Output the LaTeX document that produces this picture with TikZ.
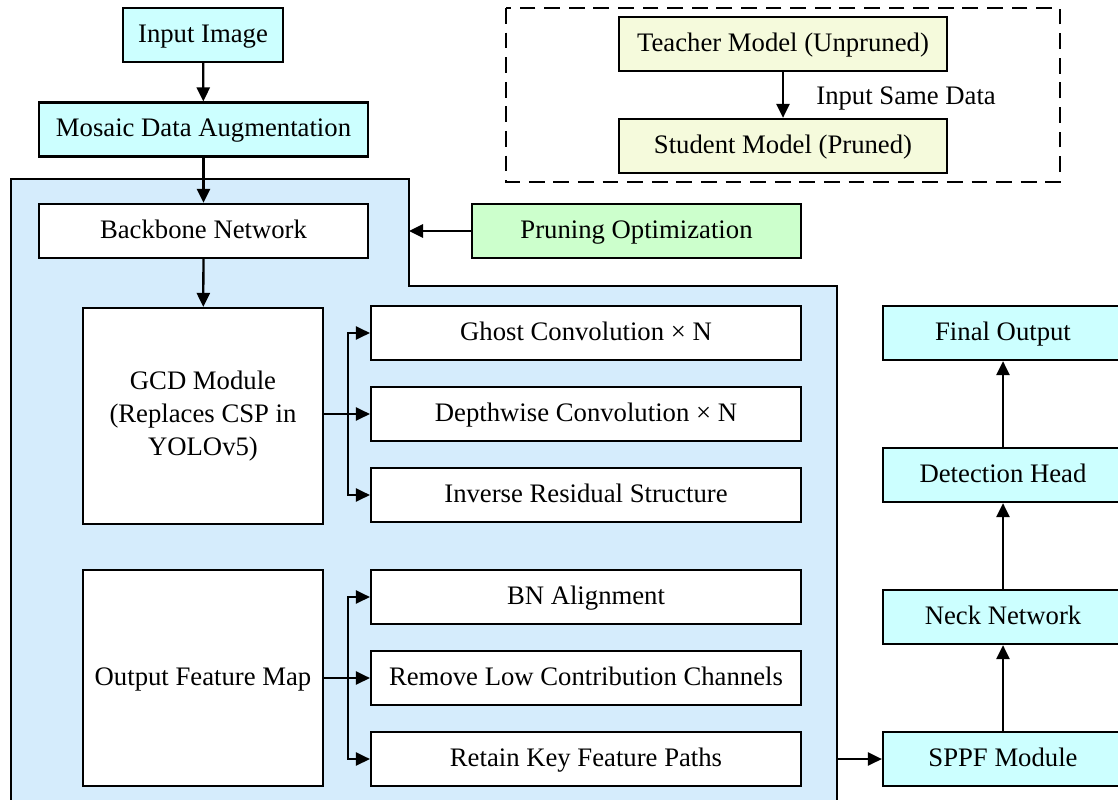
\documentclass[tikz,border=0pt]{standalone}
\usepackage{fontspec}
\setmainfont{Liberation Serif}
\usetikzlibrary{arrows.meta}
\definecolor{cyanbox}{HTML}{CCFFFF}
\definecolor{contblue}{HTML}{D5ECFC}
\definecolor{yelbox}{HTML}{F5FADC}
\definecolor{grnbox}{HTML}{CCFFCC}
\tikzset{
  blk/.style={draw=black, line width=1.3pt, inner sep=0pt,
    font=\fontsize{15.2}{19}\selectfont},
  one/.style={text height=0.8em, text depth=0pt},
  wide/.style={one, minimum width=6.58cm, minimum height=1.08cm},
  side/.style={one, minimum width=8.6cm, minimum height=1.08cm},
  tall/.style={minimum width=4.8cm, minimum height=4.32cm},
  col/.style={one, minimum width=4.8cm, minimum height=1.08cm},
  arr/.style={line width=1.3pt, -{Triangle[length=8pt,width=7.5pt]}},
  ln/.style={line width=1.3pt}
}
\begin{document}
\begin{tikzpicture}[x=0.02cm,y=-0.02cm]
\clip (0,0) rectangle (1118,800);
% container
\draw[ln, fill=contblue] (11,179) -- (409,179) -- (409,286) -- (837,286) -- (837,820) -- (11,820) -- cycle;
% dashed box
\draw[line width=1.1pt, dash pattern=on 9pt off 5pt] (506,8) rectangle (1060,182);

\node[blk, one, fill=cyanbox, minimum width=3.2cm, minimum height=1.08cm] (inp) at (203,35) {Input Image};
\node[blk, fill=cyanbox, wide] (mos) at (203.5,129.5) {Mosaic Data Augmentation};
\node[blk, fill=white, wide] (bb) at (203.5,231) {Backbone Network};
\node[blk, fill=grnbox, wide] (pr) at (636.5,231) {Pruning Optimization};
\node[blk, one, fill=yelbox, minimum width=6.56cm, minimum height=1.08cm] (tea) at (783,44) {Teacher Model (Unpruned)};
\node[blk, one, fill=yelbox, minimum width=6.56cm, minimum height=1.08cm] (stu) at (783,146) {Student Model (Pruned)};
\node[anchor=west, inner sep=0pt, one, font=\fontsize{15.2}{19}\selectfont] (lab) at (816,97) {Input Same Data};

\node[blk, fill=white, tall, align=center] (gcd) at (203,416) {GCD Module\\(Replaces CSP in\\YOLOv5)};
\node[blk, fill=white, side] (gh) at (586,333) {Ghost Convolution × N};
\node[blk, fill=white, side] (dw) at (586,414) {Depthwise Convolution × N};
\node[blk, fill=white, side] (ir) at (586,495) {Inverse Residual Structure};

\node[blk, fill=white, tall, one] (ofm) at (203,678) {Output Feature Map};
\node[blk, fill=white, side] (bn) at (586,597) {BN Alignment};
\node[blk, fill=white, side] (rm) at (586,678) {Remove Low Contribution Channels};
\node[blk, fill=white, side] (rk) at (586,759) {Retain Key Feature Paths};

\node[blk, fill=cyanbox, col] (sppf) at (1003,759) {SPPF Module};
\node[blk, fill=cyanbox, col] (neck) at (1003,617) {Neck Network};
\node[blk, fill=cyanbox, col] (det) at (1003,475) {Detection Head};
\node[blk, fill=cyanbox, col] (fin) at (1003,333) {Final Output};

\coordinate (prend) at (409,231);
\coordinate (cout) at (837,759);
\coordinate (s1) at (348,414);
\coordinate (s2) at (348,678);

\draw[arr] (inp) -- (mos);
\draw[arr] (mos) -- (bb);
\draw[arr] (bb) -- (gcd);
\draw[arr] (pr) -- (prend);
\draw[arr] (tea) -- (stu);

\draw[arr] (s1 -| gcd.east) -- (dw.west);
\draw[arr] (s1) |- (gh.west);
\draw[arr] (s1) |- (ir.west);
\draw[arr] (ofm.east) -- (rm.west);
\draw[arr] (s2) |- (bn.west);
\draw[arr] (s2) |- (rk.west);

\draw[arr] (cout) -- (sppf.west);
\draw[arr] (sppf) -- (neck);
\draw[arr] (neck) -- (det);
\draw[arr] (det) -- (fin);
\end{tikzpicture}
\end{document}
